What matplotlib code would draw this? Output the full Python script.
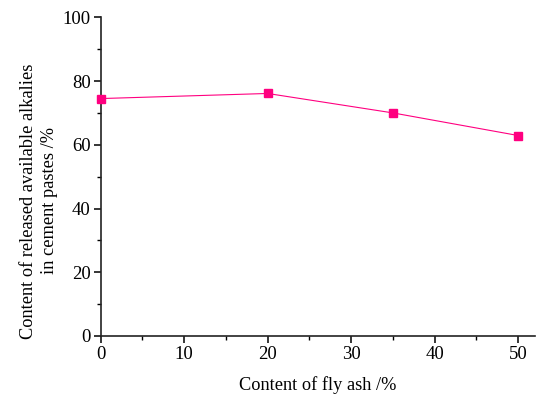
import matplotlib
matplotlib.use("Agg")
import matplotlib.pyplot as plt
from matplotlib.ticker import MultipleLocator

# fly ash content (%) vs released available alkalies (%)
fly_ash = [0, 20, 35, 50]
alkalies = [74.5, 76.1, 70.0, 62.9]

plt.rcParams['font.family'] = ['Liberation Serif', 'DejaVu Serif']

fig = plt.figure(figsize=(5.39, 3.97), dpi=100)
ax = fig.add_axes([0.1865, 0.1537, 0.806, 0.8027])

ax.plot(fly_ash, alkalies, color='#ff0080', lw=0.8, marker='s', ms=6,
        clip_on=False, zorder=3)

ax.set_xlim(0, 52)
ax.set_ylim(0, 100)
ax.xaxis.set_major_locator(MultipleLocator(10))
ax.xaxis.set_minor_locator(MultipleLocator(5))
ax.yaxis.set_major_locator(MultipleLocator(20))
ax.yaxis.set_minor_locator(MultipleLocator(10))

for side in ['top', 'right']:
    ax.spines[side].set_visible(False)
for side in ['left', 'bottom']:
    ax.spines[side].set_linewidth(1.2)
    ax.spines[side].set_color('#222222')
ax.tick_params(which='major', direction='out', length=5, width=1.1, labelsize=13.5, pad=2)
ax.tick_params(which='minor', direction='out', length=3, width=1.0)

ax.set_xlabel('Content of fly ash /%', fontsize=13.2, labelpad=10)
ax.set_ylabel('Content of released available alkalies\nin cement pastes /%',
              fontsize=13.2, linespacing=1.3)
ax.yaxis.set_label_coords(-0.098, 0.424)

fig.savefig('out.png', dpi=100)
